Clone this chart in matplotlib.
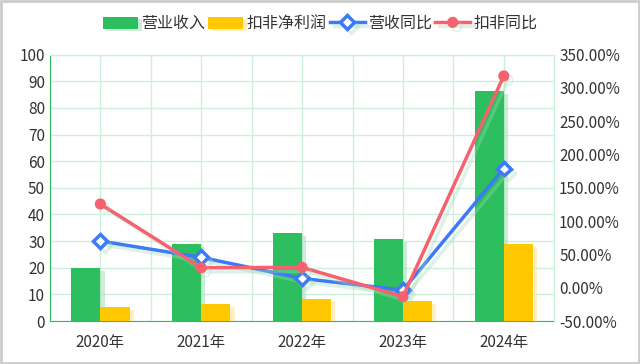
import numpy as np
import matplotlib.pyplot as plt
import matplotlib.patheffects as pe
from matplotlib.ticker import FuncFormatter

plt.rcParams['font.family'] = ['Noto Sans CJK SC', 'DejaVu Sans']

# data
years = ['2020年', '2021年', '2022年', '2023年', '2024年']
revenue = [20, 29, 33, 30.7, 86.4]
net_profit = [5.2, 6.4, 8.3, 7.5, 28.9]
revenue_yoy = [70.1, 45.6, 14.0, -3.5, 179.0]
profit_yoy = [125.7, 30.0, 30.6, -13.5, 318.0]

green = '#2dbe60'
yellow = '#ffc800'
blue = '#3d7af5'
red = '#f5616e'
grid_c = '#cdf0da'
txt = '#333333'

fig = plt.figure(figsize=(6.4, 3.64), dpi=100)
ax = fig.add_axes([0.078, 0.118, 0.788, 0.732])
ax2 = ax.twinx()

x = np.arange(len(years))
w = 0.29
gshadow = [pe.SimplePatchShadow(offset=(3, -2), shadow_rgbFace='#9fdcb5', alpha=0.5), pe.Normal()]
yshadow = [pe.SimplePatchShadow(offset=(3, -2), shadow_rgbFace='#ffe699', alpha=0.6), pe.Normal()]
ax.bar(x - w / 2, revenue, w, color=green, label='营业收入', path_effects=gshadow, zorder=3)
ax.bar(x + w / 2, net_profit, w, color=yellow, label='扣非净利润', path_effects=yshadow, zorder=3)

lshadow = [pe.SimpleLineShadow(offset=(3, -3), shadow_color='#9fdcb5', alpha=0.35), pe.Normal()]
ax2.plot(x, revenue_yoy, color=blue, lw=2.5, marker='D', ms=7, mfc='white', mec=blue, mew=2.5,
         label='营收同比', path_effects=lshadow, zorder=4)
ax2.plot(x, profit_yoy, color=red, lw=2.5, marker='o', ms=7, mfc=red, mec=red,
         label='扣非同比', path_effects=lshadow, zorder=5)

ax.set_xlim(-0.5, len(years) - 0.5)
ax.set_ylim(0, 100)
ax.set_yticks(range(0, 101, 10))
ax2.set_ylim(-50, 350)
ax2.set_yticks(range(-50, 351, 50))
ax2.yaxis.set_major_formatter(FuncFormatter(lambda v, p: f'{v:.2f}%'))

ax.set_xticks(x)
ax.set_xticklabels(years)
ax.set_xticks(np.arange(-0.5, len(years), 1), minor=True)
ax.grid(True, which='both', axis='x', color=grid_c, lw=1, zorder=0)
ax.grid(True, which='major', axis='y', color=grid_c, lw=1, zorder=0)
ax.set_axisbelow(True)

for a in (ax, ax2):
    a.tick_params(length=0, labelsize=11, colors=txt, which='both')
    for s in a.spines.values():
        s.set_color(grid_c)
ax.spines['left'].set_color(green)
ax.spines['bottom'].set_color(green)
ax2.spines['left'].set_visible(False)
ax2.spines['bottom'].set_visible(False)
ax.tick_params(axis='x', pad=9)

h1, l1 = ax.get_legend_handles_labels()
h2, l2 = ax2.get_legend_handles_labels()
fig.legend(h1 + h2, l1 + l2, loc='center', bbox_to_anchor=(0.5, 0.935), ncol=4, frameon=False,
           fontsize=11.5, handlelength=2.2, handleheight=0.8, handletextpad=0.2, columnspacing=0.2,
           labelcolor=txt)

fig.patches.append(plt.Rectangle((0.002, 0.003), 0.996, 0.994, transform=fig.transFigure,
                                 fill=False, ec='#cccccc', lw=2))

fig.savefig('out.png', dpi=100)
